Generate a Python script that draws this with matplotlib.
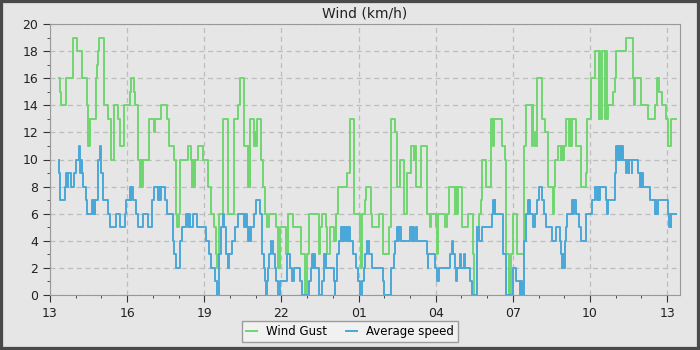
import numpy as np
import matplotlib
matplotlib.use("Agg")
import matplotlib.pyplot as plt
from matplotlib.patches import Rectangle
from matplotlib.ticker import MultipleLocator

# minutes after 13:00 where the value changes, and the new value (km/h)
gust_min = [20, 23, 25, 37, 54, 64, 75, 87, 89, 91,
            92, 94, 108, 110, 112, 114, 126, 135, 143, 149,
            159, 163, 172, 186, 189, 196, 199, 205, 210, 212,
            214, 218, 231, 243, 246, 260, 274, 277, 290, 293,
            296, 302, 304, 321, 329, 331, 333, 335, 338, 346,
            358, 369, 375, 382, 387, 390, 395, 403, 416, 430,
            438, 443, 453, 462, 464, 466, 467, 477, 479, 481,
            483, 493, 498, 502, 506, 512, 527, 531, 537, 551,
            555, 566, 586, 596, 600, 604, 627, 631, 635, 643,
            647, 653, 662, 668, 672, 693, 699, 709, 723, 725,
            729, 736, 738, 748, 752, 767, 777, 791, 795, 806,
            810, 816, 826, 834, 843, 849, 851, 853, 855, 865,
            879, 887, 889, 901, 904, 906, 922, 926, 932, 945,
            947, 949, 951, 961, 976, 986, 990, 996, 1002, 1005,
            1007, 1018, 1028, 1033, 1035, 1054, 1062, 1064, 1070, 1072,
            1074, 1076, 1081, 1089, 1105, 1107, 1111, 1124, 1126, 1128,
            1132, 1136, 1148, 1155, 1161, 1174, 1176, 1179, 1185, 1193,
            1195, 1197, 1199, 1205, 1212, 1214, 1216, 1218, 1228, 1240,
            1250, 1253, 1263, 1271, 1280, 1282, 1284, 1288, 1295, 1297,
            1299, 1302, 1314, 1318, 1320, 1343, 1360, 1363, 1366, 1378,
            1395, 1411, 1416, 1421, 1427, 1438, 1442, 1450, 1460]
gust_kmh = [16, 15, 14, 16, 19, 18, 16, 14, 11, 13,
            11, 13, 16, 17, 18, 19, 14, 13, 10, 14,
            13, 11, 14, 15, 16, 15, 14, 10, 8, 10,
            8, 10, 13, 12, 13, 14, 13, 11, 10, 6,
            5, 6, 10, 11, 10, 8, 10, 8, 10, 11,
            10, 8, 6, 5, 3, 2, 6, 13, 6, 13,
            14, 16, 11, 8, 11, 8, 13, 11, 12, 11,
            13, 10, 8, 6, 5, 6, 5, 2, 5, 3,
            6, 5, 3, 0, 3, 6, 3, 5, 6, 5,
            3, 5, 4, 6, 8, 9, 13, 6, 4, 2,
            6, 7, 8, 6, 5, 6, 3, 5, 13, 12,
            8, 10, 6, 9, 11, 10, 11, 10, 8, 11,
            6, 5, 6, 5, 3, 6, 5, 6, 8, 6,
            8, 6, 8, 5, 6, 3, 0, 5, 6, 7,
            10, 8, 13, 11, 13, 11, 10, 3, 0, 2,
            0, 3, 6, 3, 7, 11, 14, 11, 14, 12,
            11, 16, 13, 12, 8, 6, 8, 10, 11, 10,
            11, 10, 11, 13, 11, 13, 11, 13, 11, 8,
            9, 13, 16, 18, 13, 18, 13, 18, 13, 18,
            13, 14, 15, 16, 18, 19, 16, 14, 16, 14,
            13, 14, 16, 15, 14, 13, 11, 13, 13]

avg_min = [20, 21, 24, 36, 38, 40, 42, 50, 55, 60,
           67, 70, 72, 74, 76, 83, 86, 99, 100, 102,
           104, 106, 111, 113, 116, 118, 120, 124, 136, 140,
           155, 163, 175, 178, 186, 188, 190, 194, 200, 206,
           218, 228, 238, 243, 252, 254, 256, 258, 268, 274,
           286, 290, 294, 304, 309, 317, 321, 324, 326, 333,
           344, 364, 371, 375, 385, 390, 395, 399, 403, 407,
           411, 415, 418, 424, 432, 439, 452, 454, 456, 458,
           460, 462, 464, 466, 468, 477, 481, 491, 494, 499,
           502, 504, 506, 508, 512, 516, 520, 524, 527, 531,
           537, 553, 561, 565, 570, 584, 588, 604, 608, 612,
           614, 616, 619, 627, 635, 639, 644, 662, 664, 666,
           670, 674, 678, 681, 683, 685, 687, 690, 692, 696,
           698, 701, 707, 713, 718, 723, 728, 732, 736, 740,
           744, 752, 777, 779, 795, 802, 806, 810, 812, 814,
           818, 841, 844, 847, 850, 853, 857, 879, 881, 883,
           898, 902, 908, 933, 937, 941, 945, 947, 949, 957,
           959, 966, 968, 979, 984, 996, 1000, 1007, 1031, 1034,
           1036, 1038, 1039, 1058, 1064, 1080, 1088, 1097, 1099, 1101,
           1105, 1111, 1115, 1117, 1118, 1120, 1127, 1132, 1136, 1142,
           1148, 1153, 1158, 1171, 1181, 1189, 1193, 1195, 1196, 1197,
           1201, 1203, 1206, 1218, 1221, 1223, 1228, 1234, 1240, 1251,
           1265, 1271, 1276, 1278, 1281, 1283, 1297, 1300, 1302, 1318,
           1321, 1323, 1325, 1328, 1330, 1333, 1335, 1337, 1345, 1347,
           1350, 1352, 1357, 1359, 1372, 1376, 1378, 1380, 1382, 1384,
           1399, 1411, 1413, 1415, 1419, 1442, 1444, 1447, 1449, 1450,
           1460]
avg_kmh = [10, 9, 7, 8, 9, 8, 9, 8, 9, 10,
           11, 9, 10, 9, 8, 7, 6, 7, 6, 7,
           6, 7, 8, 10, 11, 10, 9, 7, 6, 5,
           6, 5, 6, 7, 8, 7, 8, 7, 6, 5,
           6, 5, 7, 8, 7, 8, 7, 8, 7, 6,
           4, 3, 2, 4, 5, 6, 5, 6, 5, 6,
           5, 4, 3, 2, 1, 0, 3, 5, 6, 5,
           3, 2, 3, 4, 5, 6, 5, 6, 5, 6,
           5, 4, 5, 4, 5, 6, 7, 6, 3, 2,
           1, 0, 1, 2, 3, 4, 3, 2, 1, 0,
           1, 3, 2, 1, 2, 1, 0, 1, 2, 3,
           2, 3, 2, 0, 1, 3, 2, 1, 0, 1,
           3, 4, 5, 4, 5, 4, 5, 4, 5, 4,
           5, 4, 3, 2, 1, 0, 1, 2, 3, 4,
           3, 2, 1, 0, 2, 3, 4, 5, 4, 5,
           4, 5, 4, 5, 4, 5, 4, 3, 2, 3,
           2, 1, 2, 3, 4, 3, 2, 1, 2, 3,
           2, 3, 2, 1, 0, 5, 4, 5, 6, 7,
           6, 7, 6, 3, 0, 2, 1, 0, 1, 0,
           4, 6, 7, 6, 7, 6, 5, 6, 7, 8,
           7, 6, 5, 4, 5, 4, 3, 2, 3, 2,
           4, 5, 6, 7, 6, 7, 6, 5, 4, 6,
           7, 8, 7, 8, 7, 8, 7, 6, 7, 9,
           11, 10, 11, 10, 11, 10, 11, 10, 9, 10,
           9, 10, 9, 10, 9, 8, 9, 8, 9, 8,
           7, 6, 7, 6, 7, 6, 5, 6, 5, 6,
           6]

tick_hours = [0, 3, 6, 9, 12, 15, 18, 21, 24]
tick_labels = ["13", "16", "19", "22", "01", "04", "07", "10", "13"]

bg = "#e6e6e6"
fig = plt.figure(figsize=(7, 3.5), dpi=100, facecolor=bg)
ax = fig.add_axes([50 / 700, 55 / 350, 630 / 700, 271 / 350])
ax.set_facecolor(bg)

ax.step(np.array(gust_min) / 60, gust_kmh, where="post",
        color="#6fd66f", lw=1.4, label="Wind Gust", zorder=3)
ax.step(np.array(avg_min) / 60, avg_kmh, where="post",
        color="#4aa8d8", lw=1.4, label="Average speed", zorder=4)

ax.set_xlim(0, 24.5)
ax.set_ylim(0, 20)
ax.set_xticks(tick_hours)
ax.set_xticklabels(tick_labels)
ax.xaxis.set_minor_locator(MultipleLocator(1))
ax.yaxis.set_major_locator(MultipleLocator(2))
ax.yaxis.set_minor_locator(MultipleLocator(1))
ax.tick_params(which="major", length=5, color="#333333", labelsize=9,
               labelcolor="#222222")
ax.tick_params(which="minor", length=2.5, color="#333333")
ax.grid(which="major", ls=(0, (4, 3)), color="#bdbdbd", lw=0.9)
for s in ax.spines.values():
    s.set_color("#999999")
ax.set_title("Wind (km/h)", fontsize=10, color="#222222", pad=5)

leg = fig.legend(loc="lower center", bbox_to_anchor=(0.5, 0.005), ncol=2,
                 fontsize=8.5, frameon=True, fancybox=False, handlelength=0.9,
                 handletextpad=0.8, columnspacing=1.6, borderpad=0.35)
leg.get_frame().set_facecolor("#f4f4f4")
leg.get_frame().set_edgecolor("#888888")

fig.patches.append(Rectangle((0, 0), 1, 1, transform=fig.transFigure,
                             fill=False, edgecolor="#4a4a4a", lw=4.5))

fig.savefig("out.png", dpi=100, facecolor=bg)
